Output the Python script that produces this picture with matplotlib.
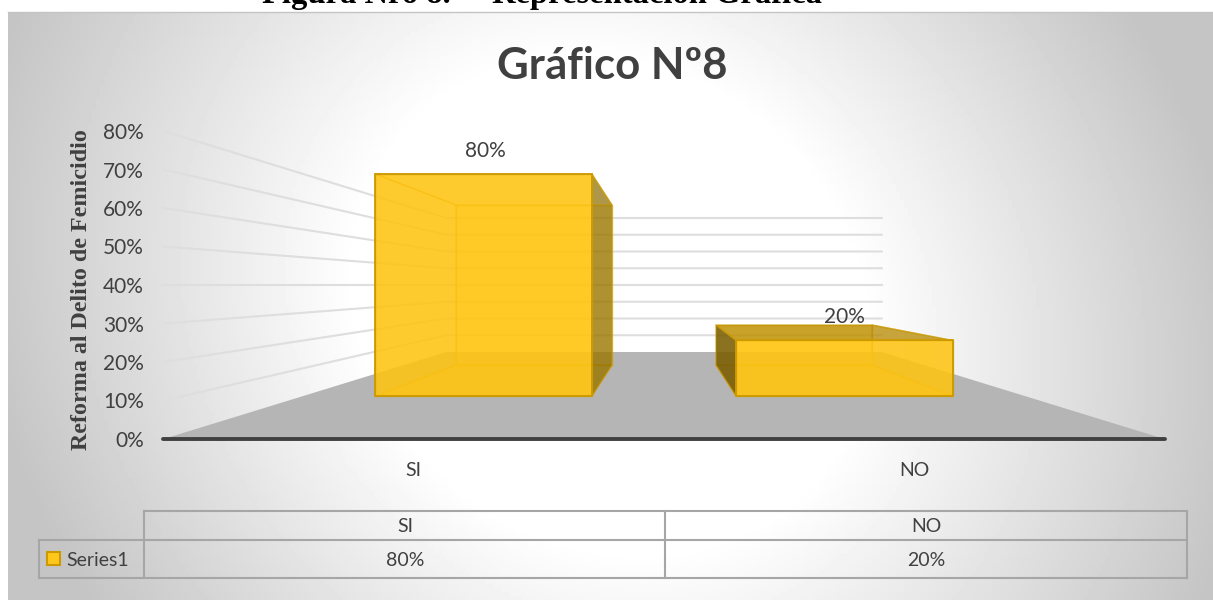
import numpy as np
import matplotlib
matplotlib.use('Agg')
import matplotlib.pyplot as plt
from matplotlib.colors import to_rgba
from matplotlib.patches import Polygon, Rectangle

categories = ['SI', 'NO']
series_name = 'Series1'
values = [80, 20]
ticks = [0, 10, 20, 30, 40, 50, 60, 70, 80]
title = 'Gráfico Nº8'
caption_a = 'Figura Nro 8.'
caption_b = 'Representación Gráfica'
ylabel = 'Reforma al Delito de Femicidio'

W, H = 1213, 601
fig = plt.figure(figsize=(W / 100, H / 100), dpi=100)
ax = fig.add_axes([0, 0, 1, 1])
ax.axis('off')

# fondo con degradado
L, T, R, B = 8, 12, 1213, 600
xx, yy = np.meshgrid(np.linspace(-1, 1, 300), np.linspace(-1, 1, 150))
d = np.sqrt(xx ** 2 + 0.25 * yy ** 2 - 0.12 * xx * yy)
bg = 1 - 0.21 * np.clip((d - 0.42) / 0.58, 0, 1.08)
ax.imshow(bg, extent=(L, R, B, T), cmap='gray', vmin=0, vmax=1, aspect='auto', zorder=0)
ax.set_xlim(0, W)
ax.set_ylim(H, 0)
ax.plot([L, R], [T, T], color='#c4c4c4', lw=1, zorder=1)


# perspectiva: categoria, valor (%), profundidad (0 frente, 1 fondo)
VX, VY = 664, 285
S_FRONT, S_BACK = 3.85, 1.675
BASE = 40
CAT_W = 130


def proj(c, v, z):
    s = 1 / (1 / S_FRONT + z * (1 / S_BACK - 1 / S_FRONT))
    return VX + s * CAT_W * (c - 0.5), VY + s * (BASE - v)


# piso
floor = [proj(-0.5, 0, 0), proj(1.5, 0, 0), proj(1.5, 0, 1), proj(-0.5, 0, 1)]
ax.add_patch(Polygon(floor, fc='#b5b5b5', ec='none', zorder=2))

# lineas de division
for t in ticks[1:]:
    p0 = proj(-0.5, t, 0)
    p1 = proj(-0.5, t, 1)
    p2 = proj(1.5, t, 1)
    ax.plot([p0[0], p1[0], p2[0]], [p0[1], p1[1], p2[1]], color='#dedede', lw=1.5, zorder=2)
p0, p1 = proj(-0.5, 0, 0), proj(1.5, 0, 0)
ax.plot([p0[0], p1[0]], [p0[1], p1[1]], color='#404040', lw=2.8, zorder=3, solid_capstyle='round')

# barras
Z0, Z1 = 0.2985, 0.7125
BAR_W = 0.6
EDGE = '#cc9a00'
for i, val in enumerate(values):
    x0, x1 = i - BAR_W / 2, i + BAR_W / 2
    # las caras que quedan detras del frente casi no se ven
    left_out = proj(x0, 0, Z1)[0] < proj(x0, 0, Z0)[0]
    right_out = proj(x1, 0, Z1)[0] > proj(x1, 0, Z0)[0]
    top_out = proj(x0, val, Z1)[1] < proj(x0, val, Z0)[1]
    faces = [
        ([(x0, 0, Z1), (x1, 0, Z1), (x1, val, Z1), (x0, val, Z1)], '#ffc000', 0.35),  # fondo
        ([(x0, 0, Z0), (x1, 0, Z0), (x1, 0, Z1), (x0, 0, Z1)], '#f0b800', 0.4),  # base
        ([(x0, 0, Z0), (x0, val, Z0), (x0, val, Z1), (x0, 0, Z1)], '#6e5400', 0.8 if left_out else 0.05),  # izq
        ([(x1, 0, Z0), (x1, val, Z0), (x1, val, Z1), (x1, 0, Z1)], '#8c6c00', 0.7 if right_out else 0.05),  # der
        ([(x0, val, Z0), (x1, val, Z0), (x1, val, Z1), (x0, val, Z1)], '#b88a00', 0.75 if top_out else 0.05),  # tapa
        ([(x0, 0, Z0), (x1, 0, Z0), (x1, val, Z0), (x0, val, Z0)], '#ffc514', 0.88),  # frente
    ]
    for pts, col, a in faces:
        xy = [proj(*p) for p in pts]
        ax.add_patch(Polygon(xy, fc=to_rgba(col, a), ec=to_rgba(EDGE, 0.6), lw=1.0, joinstyle='round', zorder=4))
    front = [proj(x0, 0, Z0), proj(x1, 0, Z0), proj(x1, val, Z0), proj(x0, val, Z0)]
    ax.add_patch(Polygon(front, fc='none', ec=EDGE, lw=1.3, zorder=5))

sans = ['Lato', 'DejaVu Sans']
tcol = '#404040'
ax.text(612, 66, title, family=sans, fontsize=31.5, fontweight='bold', color=tcol, ha='center', va='center', zorder=6)
ax.text(262, 3, caption_a, family='Liberation Serif', fontsize=23.5, fontweight='bold', color='black',
        ha='left', va='baseline', zorder=6)
ax.text(822, 3, caption_b, family='Liberation Serif', fontsize=23.5, fontweight='bold', color='black',
        ha='right', va='baseline', zorder=6)
ax.text(82, 290, ylabel, family='Liberation Serif', fontsize=17.3, fontweight='bold', color=tcol,
        rotation=90, ha='center', va='center', zorder=6)

# eje y
for t in ticks:
    xp, yp = proj(-0.5, t, 0)
    ax.text(144, yp + 2, f'{t}%', family=sans, fontsize=15, color=tcol, ha='right', va='center', zorder=6)

# etiquetas de datos
for i, val in enumerate(values):
    xp, yp = proj(i, val, Z0)
    ax.text(xp + 2 * (i == 0), yp - 23, f'{val}%', family=sans, fontsize=15, color=tcol,
            ha='center', va='center', zorder=6)

# etiquetas del eje x
for i, c in enumerate(categories):
    xp, yp = proj(i, 0, 0)
    ax.text(xp, yp + 32, c, family=sans, fontsize=14, color=tcol, ha='center', va='center', zorder=6)

# tabla de datos
GRID = '#a6a6a6'
tx0, tx1, tx2, tx3 = 39, 144, 665, 1187
ty0, ty1, ty2 = 511, 540, 578
lines = [
    ([tx1, tx3], [ty0, ty0]), ([tx0, tx3], [ty1, ty1]), ([tx0, tx3], [ty2, ty2]),
    ([tx0, tx0], [ty1, ty2]), ([tx1, tx1], [ty0, ty2]), ([tx2, tx2], [ty0, ty2]), ([tx3, tx3], [ty0, ty2]),
]
for lx, ly in lines:
    ax.plot(lx, ly, color=GRID, lw=1.5, zorder=5)
for xp, c, val in zip([405, 926], categories, values):
    ax.text(xp, 526, c, family=sans, fontsize=14, color=tcol, ha='center', va='center', zorder=6)
    ax.text(xp, 560, f'{val}%', family=sans, fontsize=14, color=tcol, ha='center', va='center', zorder=6)
ax.add_patch(Rectangle((47, 552), 13, 13, fc='#ffc71c', ec=EDGE, lw=1.5, zorder=6))
ax.text(66, 560, series_name, family=sans, fontsize=14, color=tcol, ha='left', va='center', zorder=6)

fig.savefig('out.png', dpi=100)
